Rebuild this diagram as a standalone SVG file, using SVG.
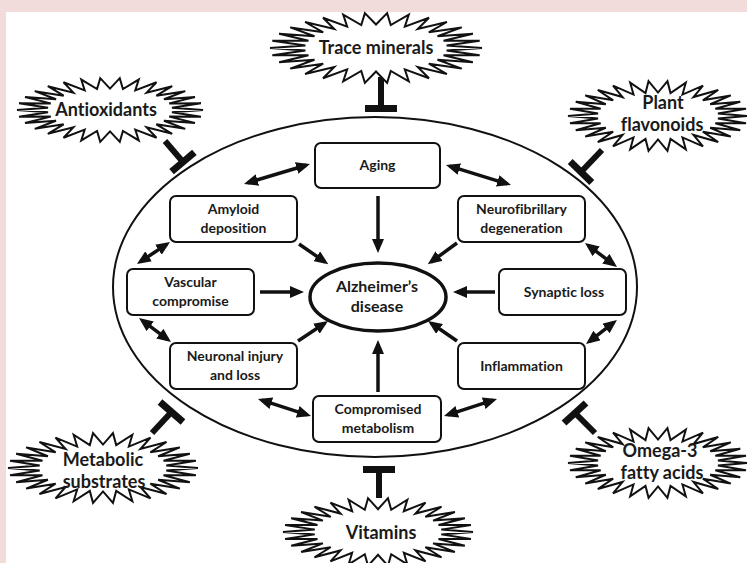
<svg xmlns="http://www.w3.org/2000/svg" xmlns:xlink="http://www.w3.org/1999/xlink" width="747" height="563" viewBox="0 0 747 563">
<defs>
<style>
.box{fill:#fff;stroke:#111;stroke-width:2}
.t{font-family:Lato,"Liberation Sans",sans-serif;font-weight:bold;fill:#1a1a1a;text-anchor:middle;font-variant-ligatures:none}
.bt{font-size:14px}
.st{font-size:18px}
.ar{stroke:#111;stroke-width:3.5;fill:none;marker-end:url(#ah)}
.da{stroke:#111;stroke-width:3.5;fill:none;marker-end:url(#ah);marker-start:url(#ah)}
.inh{stroke:#111;fill:none}
.burst{fill:#fff;stroke:#111;stroke-width:2;stroke-linejoin:miter}
</style>
<marker id="ah" viewBox="0 0 14 12" markerUnits="userSpaceOnUse" markerWidth="14" markerHeight="12" refX="10" refY="6" orient="auto-start-reverse">
<path d="M0,0 L14,6 L0,12 z" fill="#111"/>
</marker>
<path id="star" vector-effect="non-scaling-stroke" d="M100,0 L66.6,7 L97.8,20.8 L63.7,20.7 L91.4,40.7 L58,33.5 L80.9,58.8 L49.8,44.8 L66.9,74.3 L39.4,54.2 L50,86.6 L27.2,61.2 L30.9,95.1 L13.9,65.5 L10.5,99.5 L0,67 L-10.5,99.5 L-13.9,65.5 L-30.9,95.1 L-27.2,61.2 L-50,86.6 L-39.4,54.2 L-66.9,74.3 L-49.8,44.8 L-80.9,58.8 L-58,33.5 L-91.4,40.7 L-63.7,20.7 L-97.8,20.8 L-66.6,7 L-100,0 L-66.6,-7 L-97.8,-20.8 L-63.7,-20.7 L-91.4,-40.7 L-58,-33.5 L-80.9,-58.8 L-49.8,-44.8 L-66.9,-74.3 L-39.4,-54.2 L-50,-86.6 L-27.2,-61.2 L-30.9,-95.1 L-13.9,-65.5 L-10.5,-99.5 L0,-67 L10.5,-99.5 L13.9,-65.5 L30.9,-95.1 L27.2,-61.2 L50,-86.6 L39.4,-54.2 L66.9,-74.3 L49.8,-44.8 L80.9,-58.8 L58,-33.5 L91.4,-40.7 L63.7,-20.7 L97.8,-20.8 L66.6,-7 Z"/>
</defs>
<rect x="0" y="0" width="747" height="563" fill="#f2dbdb"/>
<rect x="6" y="12" width="741" height="551" fill="#fff"/>

<g id="outer-ellipse">
<ellipse cx="375" cy="287" rx="262" ry="170" fill="none" stroke="#111" stroke-width="2"/>
</g>

<g id="connectors">
<line class="ar" x1="378" y1="196" x2="378" y2="249"/>
<line class="ar" x1="299" y1="244" x2="325" y2="262"/>
<line class="ar" x1="457" y1="243" x2="431" y2="262"/>
<line class="ar" x1="260" y1="292" x2="300" y2="292"/>
<line class="ar" x1="495" y1="292" x2="457" y2="292"/>
<line class="ar" x1="298" y1="341" x2="324.7" y2="323.2"/>
<line class="ar" x1="457" y1="341" x2="431.3" y2="323.2"/>
<line class="ar" x1="378" y1="392" x2="378" y2="344"/>
<line class="da" x1="247.8" y1="182.8" x2="306.2" y2="165.2"/>
<line class="da" x1="449.8" y1="166.2" x2="507.2" y2="183.8"/>
<line class="da" x1="140.3" y1="261.8" x2="166.7" y2="244.2"/>
<line class="da" x1="142.2" y1="320.4" x2="167.8" y2="339.6"/>
<line class="da" x1="588.2" y1="245.4" x2="613.8" y2="264.6"/>
<line class="da" x1="613.8" y1="322.4" x2="589.2" y2="341.6"/>
<line class="da" x1="261.8" y1="400.2" x2="307.2" y2="414.8"/>
<line class="da" x1="447.8" y1="414.8" x2="493.2" y2="400.2"/>
<!-- inhibitors -->
<line class="inh" stroke-width="6" x1="381" y1="77" x2="381" y2="106"/>
<line class="inh" stroke-width="7" x1="365" y1="108.5" x2="397" y2="108.5"/>
<line class="inh" stroke-width="6" x1="379" y1="472" x2="379" y2="498"/>
<line class="inh" stroke-width="7" x1="363" y1="469.5" x2="395" y2="469.5"/>
<line class="inh" stroke-width="6" x1="165" y1="141" x2="183" y2="162"/>
<line class="inh" stroke-width="7" x1="171.6" y1="171.7" x2="194.4" y2="152.3"/>
<line class="inh" stroke-width="6" x1="602" y1="150" x2="581" y2="172"/>
<line class="inh" stroke-width="7" x1="570.2" y1="161.6" x2="591.8" y2="182.4"/>
<line class="inh" stroke-width="6" x1="152" y1="433" x2="171.5" y2="412"/>
<line class="inh" stroke-width="7" x1="160" y1="402" x2="183" y2="422"/>
<line class="inh" stroke-width="6" x1="595" y1="433" x2="575" y2="413"/>
<line class="inh" stroke-width="7" x1="564" y1="423" x2="586" y2="403"/>
</g>

<g id="aging">
<rect class="box" x="315" y="143" width="125" height="45" rx="6"/>
<text class="t bt" x="377.5" y="170">Aging</text>
</g>
<g id="amyloid">
<rect class="box" x="170" y="196" width="127" height="46" rx="6"/>
<text class="t bt" x="233.5" y="214">Amyloid</text>
<text class="t bt" x="233.5" y="233">deposition</text>
</g>
<g id="neurofibrillary">
<rect class="box" x="458" y="196" width="127" height="46" rx="6"/>
<text class="t bt" x="521.5" y="214">Neurofibrillary</text>
<text class="t bt" x="521.5" y="233">degeneration</text>
</g>
<g id="vascular">
<rect class="box" x="127" y="269" width="127" height="46" rx="6"/>
<text class="t bt" x="190.5" y="287">Vascular</text>
<text class="t bt" x="190.5" y="306">compromise</text>
</g>
<g id="synaptic">
<rect class="box" x="499" y="269" width="127" height="46" rx="6"/>
<text class="t bt" x="564" y="297">Synaptic loss</text>
</g>
<g id="neuronal">
<rect class="box" x="170" y="343" width="127" height="46" rx="6"/>
<text class="t bt" x="235" y="361">Neuronal injury</text>
<text class="t bt" x="235" y="380">and loss</text>
</g>
<g id="inflammation">
<rect class="box" x="458" y="343" width="127" height="46" rx="6"/>
<text class="t bt" x="521.5" y="371">Inflammation</text>
</g>
<g id="metabolism">
<rect class="box" x="313" y="396" width="128" height="46" rx="6"/>
<text class="t bt" x="378" y="414">Compromised</text>
<text class="t bt" x="378" y="433">metabolism</text>
</g>
<g id="alzheimers">
<ellipse cx="378" cy="297" rx="68" ry="34" fill="#fff" stroke="#111" stroke-width="3.5"/>
<text class="t" font-size="16" x="377" y="292">Alzheimer’s</text>
<text class="t" font-size="16" x="377" y="312">disease</text>
</g>

<g id="trace-minerals">
<use xlink:href="#star" class="burst" transform="translate(376,48) scale(1.06,0.35)"/>
<text class="t st" x="376" y="54">Trace minerals</text>
</g>
<g id="antioxidants">
<use xlink:href="#star" class="burst" transform="translate(110,110) scale(0.93,0.32)"/>
<text class="t st" x="106" y="116">Antioxidants</text>
</g>
<g id="plant-flavonoids">
<use xlink:href="#star" class="burst" transform="translate(658,116) scale(0.9,0.35)"/>
<text class="t st" x="663" y="109">Plant</text>
<text class="t st" x="662" y="131">flavonoids</text>
</g>
<g id="metabolic-substrates">
<use xlink:href="#star" class="burst" transform="translate(103,468) scale(0.95,0.35)"/>
<text class="t st" x="103" y="466">Metabolic</text>
<text class="t st" x="104" y="488">substrates</text>
</g>
<g id="omega-3">
<use xlink:href="#star" class="burst" transform="translate(658,463) scale(0.9,0.35)"/>
<text class="t st" x="660" y="457">Omega-3</text>
<text class="t st" x="662" y="479">fatty acids</text>
</g>
<g id="vitamins">
<use xlink:href="#star" class="burst" transform="translate(378,532) scale(0.95,0.34)"/>
<text class="t st" x="381" y="539">Vitamins</text>
</g>
</svg>
